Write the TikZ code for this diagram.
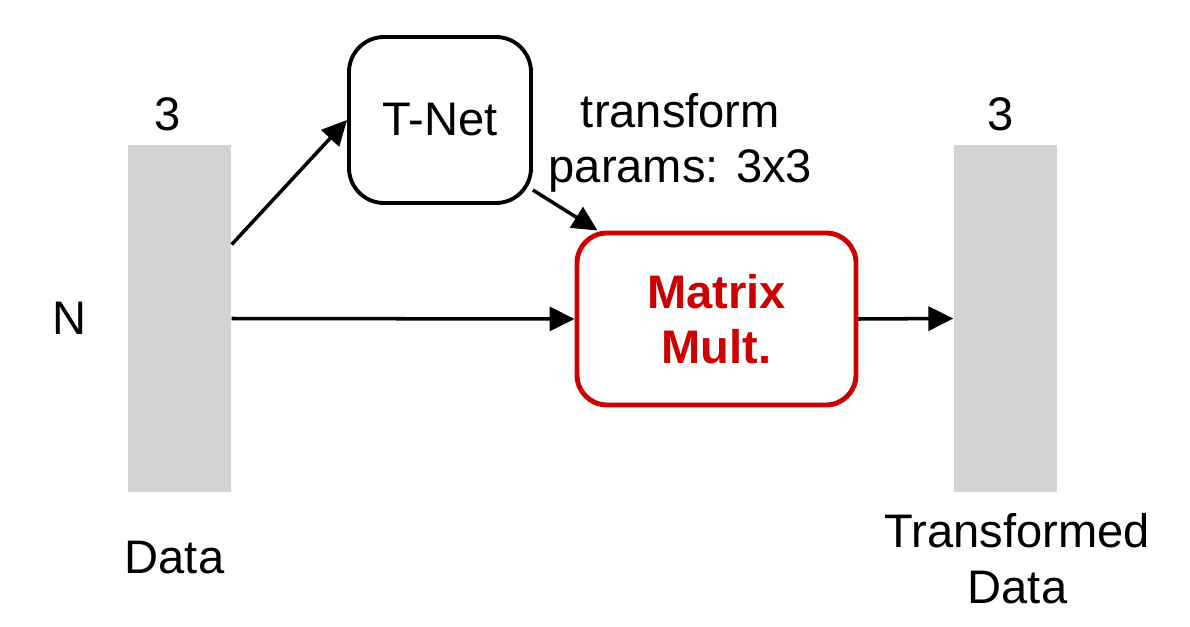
\documentclass[tikz,border=0pt]{standalone}
\usepackage{fontspec}
\setmainfont{Liberation Sans}
\usepackage{tikz}
\usetikzlibrary{positioning,shapes,arrows.meta}
\definecolor{bargray}{RGB}{211,211,211}
\definecolor{mmred}{RGB}{204,0,0}

\begin{document}
\begin{tikzpicture}[
  font=\fontsize{13.4}{15.8}\selectfont,
  node distance=1cm and 1cm,
  mybar/.style={fill=bargray,draw=none,minimum width=1.03cm,minimum height=3.47cm,inner sep=0},
  mybox/.style={draw,rounded corners=0.35cm,line width=1.1pt,minimum width=1.82cm,minimum height=1.66cm,align=center},
  myboxr/.style={draw=mmred,text=mmred,rounded corners=0.3cm,line width=1.4pt,minimum width=2.79cm,minimum height=1.72cm,align=center,font=\fontsize{13.4}{15.8}\selectfont\bfseries},
  mylabel/.style={inner sep=0,align=center},
  myarrow/.style={line width=1pt,-{Triangle[length=0.25cm,width=0.24cm]}}
]
\useasboundingbox (0,0) rectangle (11.9,6.26);

\node[mybar] (data) at (1.795,3.075) {};
\node[mybar] (out) at (10.055,3.075) {};
\node[mybox] (tnet) at (4.40,5.06) {T-Net};
\node[myboxr] (mm) at (7.165,3.07) {Matrix\\Mult.};

\node[mylabel, above=0.13cm of data, xshift=-1.2mm] (d3) {3};
\node[mylabel, above=0.13cm of out, xshift=-0.5mm] (o3) {3};
\node[mylabel, left=0.4cm of data] (dn) {N};
\node[mylabel, below=0.48cm of data, xshift=-0.5mm] (dlab) {Data};
\node[mylabel, below=0.2cm of out, xshift=1.2mm] (olab) {Transformed\\Data};
\node[mylabel, right=0.15cm of tnet, yshift=-2.3mm] (params) {transform\\params: 3x3};

\path ([yshift=7.4mm]data.east) edge[myarrow] (tnet.west)
(tnet.-37) edge[myarrow] ([xshift=2.3mm]mm.north west)
(data.east) edge[myarrow] (mm.west)
(mm.east) edge[myarrow] (out.west);
\end{tikzpicture}
\end{document}
